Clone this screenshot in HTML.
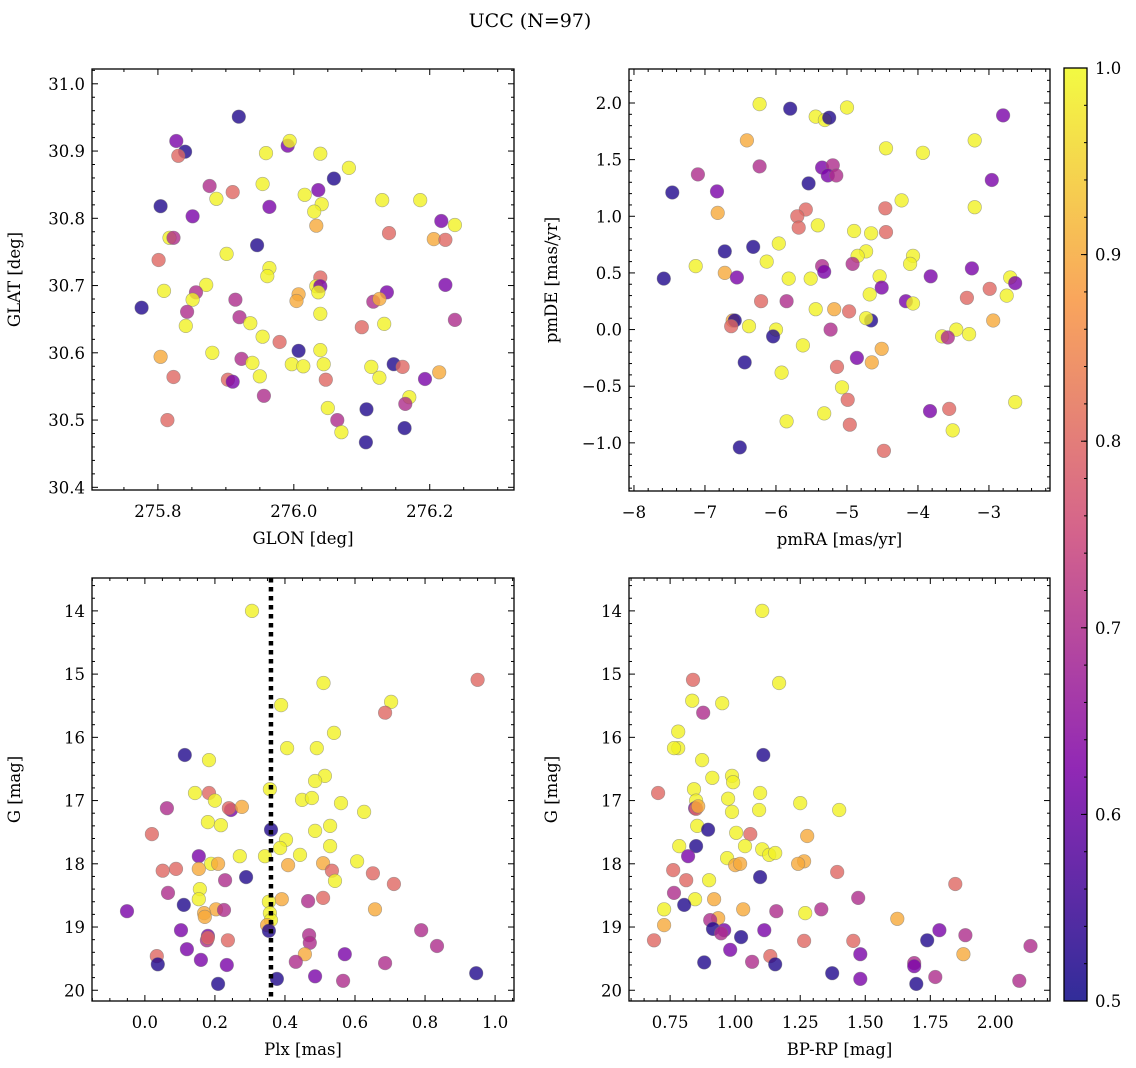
<!DOCTYPE html>
<html><head><meta charset="utf-8"><style>
body{margin:0;background:#fff}
svg{display:block;font-family:"DejaVu Serif","Liberation Serif",serif}
</style></head><body>
<svg id="fig" width="1136" height="1068" viewBox="0 0 1136 1068">
<text x="530" y="27" text-anchor="middle" font-size="19">UCC (N=97)</text>
</svg>
<script>
// ---- data (probability code: a=0.52 b=0.62 c=0.70 d=0.80 e=0.90 f=0.99)
const pmap={a:0.52,b:0.62,c:0.70,d:0.80,e:0.90,f:0.99};
const glon=[275.919,275.827,275.84,275.83,275.991,275.994,275.959,276.039,276.081,276.059,276.036,275.954,275.876,275.886,275.91,276.016,276.041,276.03,276.033,275.964,275.804,275.851,276.13,276.186,276.217,276.237,276.14,275.817,275.823,276.206,276.223,275.946,275.901,275.801,275.964,275.961,276.039,275.871,275.809,275.856,275.776,276.033,276.039,276.007,276.004,276.036,276.223,276.137,275.914,275.851,276.117,276.126,275.843,276.039,276.237,275.841,275.92,275.936,276.1,276.133,275.954,275.979,276.007,276.039,275.804,275.88,275.923,275.939,275.997,276.014,276.044,276.114,276.147,276.16,276.214,276.193,275.823,275.903,275.91,275.95,276.047,276.126,275.956,276.17,276.164,276.05,276.107,276.064,275.814,276.07,276.106,276.163];
const glat=[30.951,30.915,30.899,30.893,30.908,30.915,30.897,30.896,30.875,30.859,30.842,30.851,30.848,30.829,30.839,30.835,30.821,30.81,30.789,30.817,30.818,30.803,30.827,30.827,30.796,30.79,30.778,30.771,30.771,30.769,30.768,30.76,30.747,30.738,30.726,30.714,30.712,30.701,30.692,30.69,30.667,30.699,30.699,30.687,30.677,30.69,30.701,30.69,30.679,30.679,30.676,30.68,30.661,30.658,30.649,30.64,30.653,30.644,30.638,30.643,30.624,30.616,30.603,30.604,30.594,30.6,30.591,30.585,30.583,30.58,30.583,30.579,30.583,30.579,30.571,30.561,30.564,30.56,30.557,30.565,30.56,30.563,30.536,30.534,30.524,30.518,30.516,30.5,30.5,30.482,30.467,30.488];
const prob1="abadbffffabfcfdfffebabffbfdfcedafdffdffcafbeefbbcfcecfcfcfdffdafefcfffffadebddbfdfcfcfacdfaaf";
const pmra=[-6.23,-5.80,-5.00,-5.44,-5.31,-5.25,-2.80,-6.41,-3.20,-4.45,-3.93,-5.54,-7.10,-6.23,-5.35,-5.20,-5.27,-5.15,-7.46,-6.83,-2.96,-3.20,-4.23,-4.46,-5.58,-5.70,-6.82,-5.41,-5.68,-4.90,-4.45,-4.66,-5.96,-6.32,-6.72,-4.73,-4.85,-4.07,-6.13,-4.92,-7.13,-4.11,-5.35,-5.32,-3.24,-2.70,-2.63,-6.72,-6.55,-7.58,-3.82,-5.82,-5.51,-4.54,-2.99,-4.51,-4.68,-4.17,-4.07,-6.21,-5.85,-3.31,-2.75,-5.44,-5.18,-4.97,-4.66,-4.73,-2.94,-6.61,-6.58,-6.63,-6.38,-6.0,-5.23,-3.46,-6.04,-3.66,-3.58,-3.28,-5.62,-4.51,-4.86,-4.65,-6.44,-5.14,-5.92,-5.07,-4.99,-2.63,-3.56,-3.83,-5.32,-5.85,-4.96,-3.51,-6.51,-4.48];
const pmde=[1.99,1.95,1.96,1.88,1.85,1.87,1.89,1.67,1.67,1.60,1.56,1.29,1.37,1.44,1.43,1.45,1.36,1.36,1.21,1.22,1.32,1.08,1.14,1.07,1.06,1.00,1.03,0.92,0.90,0.87,0.86,0.85,0.76,0.73,0.69,0.69,0.65,0.65,0.60,0.58,0.56,0.58,0.56,0.51,0.54,0.46,0.41,0.50,0.46,0.45,0.47,0.45,0.45,0.47,0.36,0.37,0.31,0.25,0.23,0.25,0.25,0.28,0.30,0.18,0.18,0.16,0.08,0.10,0.08,0.08,0.08,0.03,0.03,0.0,0.0,0.0,-0.06,-0.06,-0.07,-0.04,-0.14,-0.17,-0.25,-0.29,-0.29,-0.33,-0.38,-0.51,-0.62,-0.64,-0.70,-0.72,-0.74,-0.81,-0.84,-0.89,-1.04,-1.07,-1.12];
const prob2="fafffabefffaccbcbcabbffdddefdfdffaaffffcffcbbfbebabfffdbfbfdcdffedafeeadffcfafcffebeadffdfdbffdfadb";
const plx=[0.306,0.95,0.51,0.703,0.686,0.389,0.54,0.183,0.114,0.406,0.491,0.514,0.486,0.183,0.143,0.2,0.449,0.477,0.357,0.063,0.246,0.24,0.277,0.56,0.626,0.529,0.486,0.18,0.217,0.36,0.02,0.403,0.529,0.443,0.386,0.154,0.271,0.343,0.189,0.209,0.409,0.509,0.606,0.089,0.154,0.051,0.534,0.651,0.543,0.289,0.229,0.711,0.157,0.066,0.391,0.154,0.509,0.466,0.354,0.111,0.657,0.203,0.226,-0.051,0.357,0.169,0.171,0.36,0.349,0.103,0.789,0.354,0.469,0.18,0.177,0.18,0.237,0.471,0.834,0.12,0.034,0.571,0.457,0.16,0.431,0.686,0.037,0.234,0.946,0.486,0.377,0.566,0.209];
const gmag3=[14.0,15.09,15.14,15.44,15.61,15.49,15.93,16.36,16.28,16.17,16.17,16.61,16.69,16.88,16.88,17.0,16.99,16.96,16.82,17.12,17.15,17.12,17.10,17.04,17.18,17.4,17.48,17.34,17.39,17.46,17.53,17.62,17.72,17.86,17.75,17.88,17.88,17.88,18.0,18.0,18.02,17.99,17.96,18.08,18.08,18.11,18.11,18.15,18.27,18.21,18.26,18.32,18.4,18.46,18.56,18.56,18.54,18.59,18.6,18.65,18.72,18.72,18.73,18.75,18.78,18.78,18.84,18.89,18.97,19.05,19.05,19.06,19.13,19.14,19.21,19.17,19.21,19.25,19.3,19.35,19.46,19.43,19.43,19.52,19.55,19.57,19.59,19.6,19.73,19.78,19.82,19.85,19.9];
const prob3="fdffdfffaffffdfffffcbdeffffffadffffbfffeeefdedddfacdfcefdcfaeecbfeefebcacbcddccbdbebccababaca";
const bprp=[1.104,0.838,1.169,0.835,0.95,0.877,0.781,0.781,0.765,1.108,0.873,0.912,0.988,0.992,0.704,0.842,1.096,0.85,0.973,1.25,0.846,0.85,0.858,0.988,1.092,1.4,0.854,0.896,1.004,1.058,1.277,0.785,0.85,1.038,1.104,0.819,1.131,1.154,0.969,1.265,1.242,1.0,1.019,0.762,0.812,0.9,1.096,1.392,1.846,0.765,0.846,0.919,1.473,0.804,0.727,1.031,1.158,1.269,1.331,0.935,0.904,1.623,0.727,0.915,0.958,1.112,1.785,0.946,1.885,1.023,1.738,0.688,1.265,1.454,2.135,0.981,1.877,1.135,1.481,1.065,1.688,1.688,1.154,1.373,1.769,1.481,2.092,1.696,0.881];
const gmag4=[14.0,15.09,15.14,15.42,15.46,15.61,15.91,16.17,16.17,16.28,16.36,16.64,16.61,16.71,16.88,16.82,16.88,17.0,16.97,17.04,17.12,17.13,17.09,17.18,17.15,17.15,17.4,17.46,17.51,17.53,17.56,17.72,17.72,17.72,17.77,17.88,17.86,17.83,17.91,17.96,18.0,18.02,18.0,18.1,18.26,18.26,18.21,18.13,18.32,18.46,18.56,18.56,18.54,18.65,18.72,18.72,18.75,18.78,18.72,18.86,18.89,18.87,18.97,19.03,19.05,19.05,19.05,19.1,19.13,19.16,19.21,19.21,19.22,19.22,19.3,19.36,19.43,19.46,19.43,19.55,19.57,19.62,19.59,19.73,19.79,19.82,19.85,19.9,19.56];
const prob4="fdfffcfffaffffdfffffbdeffffafdefaffbfffeeeeddfaddcfecafecfceceeabbbccaadddcbedbccbaacbcaa";
const plxLine=0.36;
const cbTicks=[0.5,0.6,0.7,0.8,0.9,1.0];

const NS="http://www.w3.org/2000/svg";
const svg=document.getElementById('fig');
function mk(t,a,p){const e=document.createElementNS(NS,t);for(const k in a)e.setAttribute(k,a[k]);(p||svg).appendChild(e);return e;}
const stops=[[0,[13,8,135]],[0.25,[126,3,168]],[0.5,[204,71,120]],[0.75,[248,149,64]],[1,[240,249,33]]];
function plasma(t){t=Math.max(0,Math.min(1,t));for(let i=1;i<stops.length;i++){if(t<=stops[i][0]){const [t0,c0]=stops[i-1],[t1,c1]=stops[i];const f=(t-t0)/(t1-t0);return 'rgb('+c0.map((v,j)=>Math.round(v+(c1[j]-v)*f)).join(',')+')';}}return 'rgb(240,249,33)';}
function pc(p){return plasma((p-0.5)/0.5);}
function fmt(v,d){let s=v.toFixed(d);if(v<0)s='\u2212'+s.slice(1);if(s==='\u22120'||s==='\u22120.0')s=s.slice(1);return s;}

function panel(o){
  const g=mk('g',{});
  
  
  const X=v=>o.x0+(v-o.xr[0])/(o.xr[1]-o.xr[0])*(o.x1-o.x0);
  const Y=o.inv?(v=>o.y0+(v-o.yr[0])/(o.yr[1]-o.yr[0])*(o.y1-o.y0)):(v=>o.y1-(v-o.yr[0])/(o.yr[1]-o.yr[0])*(o.y1-o.y0));
  const pg=mk('g',{},g);
  
  
  for(let i=0;i<o.xs.length&&i<o.ys.length;i++){
    const p=pmap[o.pr[i]]||0.99;
    const c=mk('circle',{cx:X(o.xs[i]).toFixed(1),cy:Y(o.ys[i]).toFixed(1),r:6.8,fill:pc(p),'fill-opacity':0.8,stroke:'#777','stroke-opacity':0.6,'stroke-width':0.6},pg);
    
    
  }
  if(o.vline!==undefined){
    const l=mk('line',{x1:X(o.vline),x2:X(o.vline),y1:o.y0,y2:o.y1,stroke:'#000','stroke-width':4.5,'stroke-dasharray':'4.5,4.5'},g);
    
    
  }
  const fr=mk('rect',{x:o.x0,y:o.y0,width:o.x1-o.x0,height:o.y1-o.y0,fill:'none',stroke:'#000','stroke-width':1.3},g);
  
  
  const tg=mk('g',{stroke:'#000','stroke-width':1},g);
  const xlo=Math.min(...o.xr),xhi=Math.max(...o.xr),ylo=Math.min(...o.yr),yhi=Math.max(...o.yr);
  for(let v=Math.ceil(xlo/o.xmin-1e-6)*o.xmin;v<=xhi+1e-9;v+=o.xmin){
    const maj=Math.abs(v/o.xmaj-Math.round(v/o.xmaj))<1e-4;const L=maj?6:3;const x=X(v);
    mk('line',{x1:x,x2:x,y1:o.y1,y2:o.y1-L},tg);mk('line',{x1:x,x2:x,y1:o.y0,y2:o.y0+L},tg);
    if(maj){const t=mk('text',{x:x,y:o.y1+27,'text-anchor':'middle','font-size':16.5,stroke:'none'},g);t.textContent=fmt(Math.round(v/o.xmaj)*o.xmaj,o.xd);
      }
  }
  for(let v=Math.ceil(ylo/o.ymin-1e-6)*o.ymin;v<=yhi+1e-9;v+=o.ymin){
    const maj=Math.abs(v/o.ymaj-Math.round(v/o.ymaj))<1e-4;const L=maj?6:3;const y=Y(v);
    mk('line',{x1:o.x0,x2:o.x0+L,y1:y,y2:y},tg);mk('line',{x1:o.x1,x2:o.x1-L,y1:y,y2:y},tg);
    if(maj){const t=mk('text',{x:o.x0-7,y:y+6,'text-anchor':'end','font-size':16.5,stroke:'none'},g);t.textContent=fmt(Math.round(v/o.ymaj)*o.ymaj,o.yd);
      }
  }
  const xl=mk('text',{x:(o.x0+o.x1)/2,y:o.y1+54,'text-anchor':'middle','font-size':16.5},g);xl.textContent=o.xlab;
  
  const yx=o.x0-72,yc=(o.y0+o.y1)/2;
  const yl=mk('text',{x:yx,y:yc,'text-anchor':'middle','font-size':16.5,transform:'rotate(-90 '+yx+' '+yc+')'},g);yl.textContent=o.ylab;
  
}
panel({name:'glon-glat-panel',x0:92,x1:514,y0:69,y1:490,xr:[275.703,276.324],yr:[30.396,31.022],xs:glon,ys:glat,pr:prob1,xmaj:0.2,xmin:0.05,ymaj:0.1,ymin:0.02,xd:1,yd:1,xlab:'GLON [deg]',ylab:'GLAT [deg]'});
panel({name:'pm-panel',x0:629,x1:1050,y0:69,y1:491,xr:[-8.07,-2.14],yr:[-1.425,2.30],xs:pmra,ys:pmde,pr:prob2,xmaj:1,xmin:0.2,ymaj:0.5,ymin:0.1,xd:0,yd:1,xlab:'pmRA [mas/yr]',ylab:'pmDE [mas/yr]'});
panel({name:'plx-g-panel',x0:92,x1:514,y0:578,y1:1001,xr:[-0.151,1.054],yr:[13.48,20.17],inv:true,xs:plx,ys:gmag3,pr:prob3,xmaj:0.2,xmin:0.05,ymaj:1,ymin:0.2,xd:1,yd:0,xlab:'Plx [mas]',ylab:'G [mag]',vline:plxLine});
panel({name:'cmd-panel',x0:629,x1:1050,y0:578,y1:1001,xr:[0.592,2.21],yr:[13.48,20.17],inv:true,xs:bprp,ys:gmag4,pr:prob4,xmaj:0.25,xmin:0.05,ymaj:1,ymin:0.2,xd:2,yd:0,xlab:'BP-RP [mag]',ylab:'G [mag]'});
const cb=mk('g',{});


const defs=mk('defs',{},cb);
const lg=mk('linearGradient',{id:'pl',x1:0,y1:1,x2:0,y2:0},defs);
for(let i=0;i<=20;i++)mk('stop',{offset:i/20,'stop-color':plasma(i/20)},lg);
const cx0=1064,cx1=1087,cy0=68,cy1=1001;
mk('rect',{x:cx0,y:cy0,width:cx1-cx0,height:cy1-cy0,fill:'url(#pl)','fill-opacity':0.85},cb);
mk('rect',{x:cx0,y:cy0,width:cx1-cx0,height:cy1-cy0,fill:'none',stroke:'#000','stroke-width':1.3},cb);
const CY=v=>cy1-(v-0.5)/0.5*(cy1-cy0);
for(let v=0.5;v<=1.0001;v+=0.02){const y=CY(v);mk('line',{x1:cx1,x2:cx1-3,y1:y,y2:y,stroke:'#000'},cb);}
cbTicks.forEach(v=>{const y=CY(v);mk('line',{x1:cx1,x2:cx1-6,y1:y,y2:y,stroke:'#000'},cb);
  const t=mk('text',{x:cx1+8,y:y+6,'font-size':16.5},cb);t.textContent=v.toFixed(1);
  });
</script>
</body></html>
